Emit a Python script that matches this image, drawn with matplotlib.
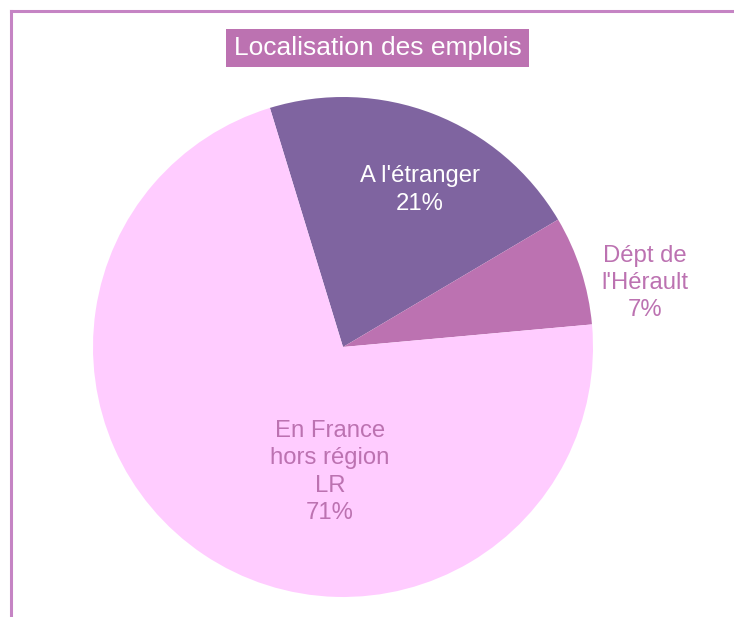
import numpy as np
import matplotlib.pyplot as plt
from matplotlib.lines import Line2D

plt.rcParams['font.family'] = ['Liberation Sans', 'DejaVu Sans']

# data
categories = ["A l'étranger", "Dépt de\nl'Hérault", "En France\nhors région\nLR"]
values = [21, 7, 71]
colors = ['#7f64a0', '#bc72b1', '#ffccff']
text_colors = ['white', '#bc72b1', '#bc72b1']

fig = plt.figure(figsize=(7.34, 6.17), dpi=100)
W, H = 734, 617

# pie axes: center (343,347), radius 250 px
cx, cy, r = 343, 347, 250
ax = fig.add_axes([(cx - r) / W, 1 - (cy + r) / H, 2 * r / W, 2 * r / H])
wedges, _ = ax.pie(values, colors=colors, startangle=107, counterclock=False,
                   wedgeprops=dict(linewidth=0))
ax.set_xlim(-1, 1)
ax.set_ylim(-1, 1)
ax.set_aspect('equal')
ax.axis('off')

# slice labels (positions relative to pie radius)
label_pos = [(0.308, 0.628), (1.208, 0.255), (-0.052, -0.5)]
for name, v, (lx, ly), tc in zip(categories, values, label_pos, text_colors):
    ax.text(lx, ly, f"{name}\n{v}%", ha='center', va='center', color=tc,
            fontsize=17.2, linespacing=1.3, clip_on=False)

# frame lines top and left
fig.add_artist(Line2D([11 / W, 11 / W], [1 - 11 / H, 0], color='#c584c4', lw=2.2,
                      transform=fig.transFigure))
fig.add_artist(Line2D([11 / W, 1], [1 - 11 / H, 1 - 11 / H], color='#c584c4', lw=2.2,
                      transform=fig.transFigure))

# title box
fig.text(377.5 / W, 1 - 48 / H, 'Localisation des emplois', ha='center', va='center',
         color='white', fontsize=19,
         bbox=dict(boxstyle='square,pad=0.28', fc='#bc72b1', ec='none'))

fig.savefig('out.png', dpi=100)
